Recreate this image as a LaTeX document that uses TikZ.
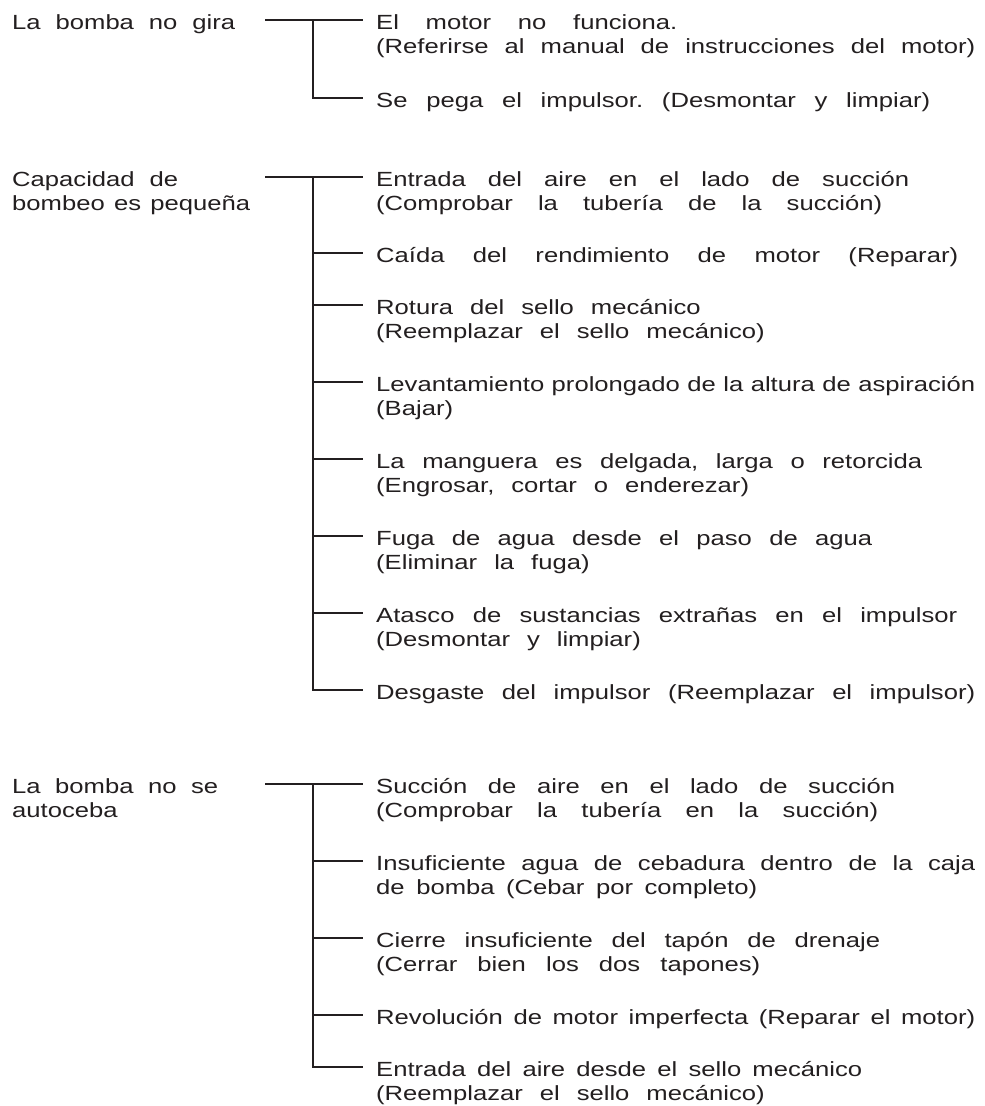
\documentclass[tikz,border=0pt]{standalone}
\usepackage{fontspec}
\setmainfont{Liberation Sans}[FakeStretch=1.25]
\definecolor{ink}{HTML}{231F20}
\newcommand\fw[2]{\makebox[#1pt][s]{#2}}
\newcommand\tfont{\fontsize{20.5}{24.5}\selectfont\frenchspacing\spaceskip=17pt plus 60pt minus 10pt\relax}
\tikzset{
  cause/.style={anchor=north west, inner xsep=13pt, inner ysep=0pt, align=left, font=\tfont, text=ink},
  topic/.style={anchor=north west, inner sep=0pt, align=left, font=\tfont, text=ink},
  conn/.style={draw=ink, line width=1.7pt}
}
\begin{document}
\begin{tikzpicture}[x=1pt,y=1pt]
\fill[white] (0,0) rectangle (985,-1106);
\useasboundingbox (0,0) rectangle (985,-1106);
% ---------- section 1 ----------
\node[topic] (t1) at (12,-12) {\strut\fw{223}{La bomba no gira}};
\coordinate (k1) at (265,-20);
\coordinate (j1) at (313,-20);
\coordinate (m1) at (313,-98);
\node[cause] (a1) at (363,-12) {\strut\fw{301}{El motor no funciona.}\\\fw{599}{(Referirse al manual de instrucciones del motor)}};
\node[cause] (a2) at (363,-90) {\strut\fw{554}{Se pega el impulsor. (Desmontar y limpiar)}};
\draw[conn] (k1) -- (j1) -- (j1 -| a1.west);
\draw[conn] (j1) -- (m1) -- (m1 -| a2.west);
% ---------- section 2 ----------
\node[topic] (t2) at (12,-169) {\strut\fw{166}{Capacidad de}\\\fw{238}{bombeo es pequeña}};
\coordinate (k2) at (265,-177);
\coordinate (j2) at (313,-177);
\coordinate (m2) at (313,-690);
\node[cause] (b1) at (363,-169) {\strut\fw{533}{Entrada del aire en el lado de succión}\\\fw{506}{(Comprobar la tubería de la succión)}};
\node[cause] (b2) at (363,-245) {\strut\fw{582}{Caída del rendimiento de motor (Reparar)}};
\node[cause] (b3) at (363,-297) {\strut Rotura del sello mecánico\\(Reemplazar el sello mecánico)};
\node[cause] (b4) at (363,-374) {\strut\fw{599}{Levantamiento prolongado de la altura de aspiración}\\(Bajar)};
\node[cause] (b5) at (363,-451) {\strut\fw{546}{La manguera es delgada, larga o retorcida}\\(Engrosar, cortar o enderezar)};
\node[cause] (b6) at (363,-528) {\strut\fw{496}{Fuga de agua desde el paso de agua}\\(Eliminar la fuga)};
\node[cause] (b7) at (363,-605) {\strut\fw{581}{Atasco de sustancias extrañas en el impulsor}\\(Desmontar y limpiar)};
\node[cause] (b8) at (363,-682) {\strut\fw{599}{Desgaste del impulsor (Reemplazar el impulsor)}};
\draw[conn] (k2) -- (j2) -- (j2 -| b1.west);
\draw[conn] (j2) -- (m2) -- (m2 -| b8.west);
\foreach \n/\yy in {b2/-253,b3/-305,b4/-382,b5/-459,b6/-536,b7/-613}
  \draw[conn] (313,\yy) -- (313,\yy -| \n.west);
% ---------- section 3 ----------
\node[topic] (t3) at (12,-776) {\strut\fw{206}{La bomba no se}\\autoceba};
\coordinate (k3) at (265,-784);
\coordinate (j3) at (313,-784);
\coordinate (m3) at (313,-1067);
\node[cause] (c1) at (363,-776) {\strut\fw{519}{Succión de aire en el lado de succión}\\\fw{502}{(Comprobar la tubería en la succión)}};
\node[cause] (c2) at (363,-853) {\strut\fw{599}{Insuficiente agua de cebadura dentro de la caja}\\\fw{381}{de bomba (Cebar por completo)}};
\node[cause] (c3) at (363,-930) {\strut\fw{504}{Cierre insuficiente del tapón de drenaje}\\\fw{384}{(Cerrar bien los dos tapones)}};
\node[cause] (c4) at (363,-1007) {\strut\fw{599}{Revolución de motor imperfecta (Reparar el motor)}};
\node[cause] (c5) at (363,-1059) {\strut\fw{486}{Entrada del aire desde el sello mecánico}\\(Reemplazar el sello mecánico)};
\draw[conn] (k3) -- (j3) -- (j3 -| c1.west);
\draw[conn] (j3) -- (m3) -- (m3 -| c5.west);
\foreach \n/\yy in {c2/-861,c3/-938,c4/-1015}
  \draw[conn] (313,\yy) -- (313,\yy -| \n.west);
\end{tikzpicture}
\end{document}
